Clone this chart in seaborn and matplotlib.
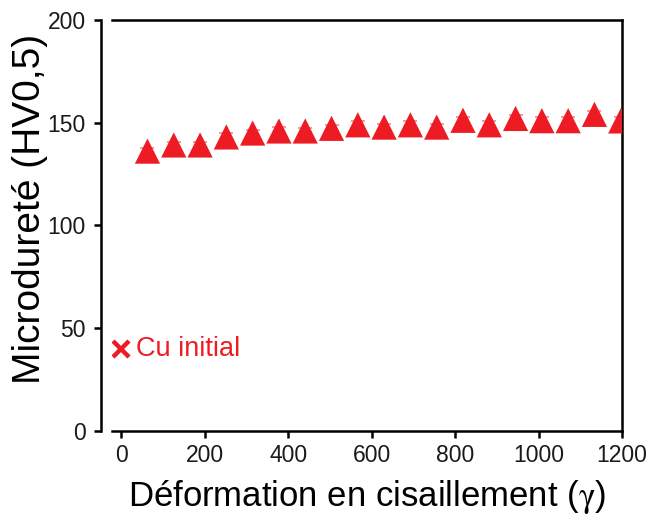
import matplotlib
matplotlib.use("Agg")
import matplotlib.pyplot as plt
import seaborn as sns
import pandas as pd

# Shear strain (gamma) and Vickers microhardness HV0.5
strain = [63, 126, 189, 252, 315, 378, 441, 504, 567, 630,
          693, 756, 819, 882, 945, 1008, 1071, 1134, 1197]
hardness = [136.2, 139.2, 139.2, 143.1, 145.0, 146.0, 146.0, 147.3, 149.0, 147.9,
            149.0, 147.9, 151.2, 149.0, 152.1, 151.0, 151.0, 154.1, 150.9]
hardness_err = [1.7, 1.6, 1.6, 1.7, 1.6, 1.8, 1.6, 1.7, 1.8, 1.6,
                1.7, 1.6, 1.8, 1.7, 1.8, 1.7, 1.7, 1.8, 1.7]

# Reference state of the copper before deformation
initial_strain = [0]
initial_hardness = [40]
initial_label = "Cu initial"

x_ticks = [0, 200, 400, 600, 800, 1000, 1200]
y_ticks = [0, 50, 100, 150, 200]

RED = "#ED1C24"
PINK = "#F4868A"

sns.set_theme(style="white")
plt.rcParams["font.family"] = ["Liberation Sans", "DejaVu Sans"]
plt.rcParams["mathtext.fontset"] = "stix"

df = pd.DataFrame({"strain": strain, "hardness": hardness, "err": hardness_err})

fig = plt.figure(figsize=(6.46, 5.18), dpi=100)
ax = fig.add_axes([112 / 646, 1 - 431 / 518, 510 / 646, 411 / 518])

# error caps sit behind the triangles
ax.errorbar(df["strain"], df["hardness"], yerr=df["err"], fmt="none",
            ecolor=PINK, elinewidth=0, capsize=5, capthick=1.2, zorder=2)
sns.scatterplot(data=df, x="strain", y="hardness", marker="^", s=330,
                color=RED, edgecolor="none", linewidth=0, ax=ax, zorder=3,
                legend=False)

ax.plot(initial_strain, initial_hardness, linestyle="none", marker="x",
        markersize=12, markeredgewidth=3.2, color=RED, zorder=3)
ax.annotate(initial_label, xy=(initial_strain[0], initial_hardness[0]),
            xytext=(11, 0), textcoords="offset points", va="center", ha="left",
            fontsize=19.5, color=RED)

ax.set_xlim(-22, 1200)
ax.set_ylim(0, 200)
ax.set_xticks(x_ticks)
ax.set_yticks(y_ticks)

for side in ["top", "right", "bottom", "left"]:
    ax.spines[side].set_visible(True)
    ax.spines[side].set_color("black")
    ax.spines[side].set_linewidth(1.8)
ax.spines["left"].set_position(("outward", 8))
ax.spines["left"].set_bounds(0, 200)

ax.tick_params(axis="both", which="major", direction="out", length=5,
               width=1.8, color="black", labelsize=16.5, labelcolor="#1a1a1a")
ax.tick_params(axis="x", pad=4)
ax.tick_params(axis="y", pad=6)
ax.xaxis.set_ticks_position("bottom")
ax.yaxis.set_ticks_position("left")

ax.set_xlabel(r"Déformation en cisaillement ($\mathrm{\gamma}$)", fontsize=25,
              color="black", labelpad=8)
ax.set_ylabel("Microdureté (HV0,5)", fontsize=28, color="black")
ax.yaxis.set_label_coords(-0.125, 0.54)
ax.grid(False)

fig.savefig("out.png", dpi=100)
